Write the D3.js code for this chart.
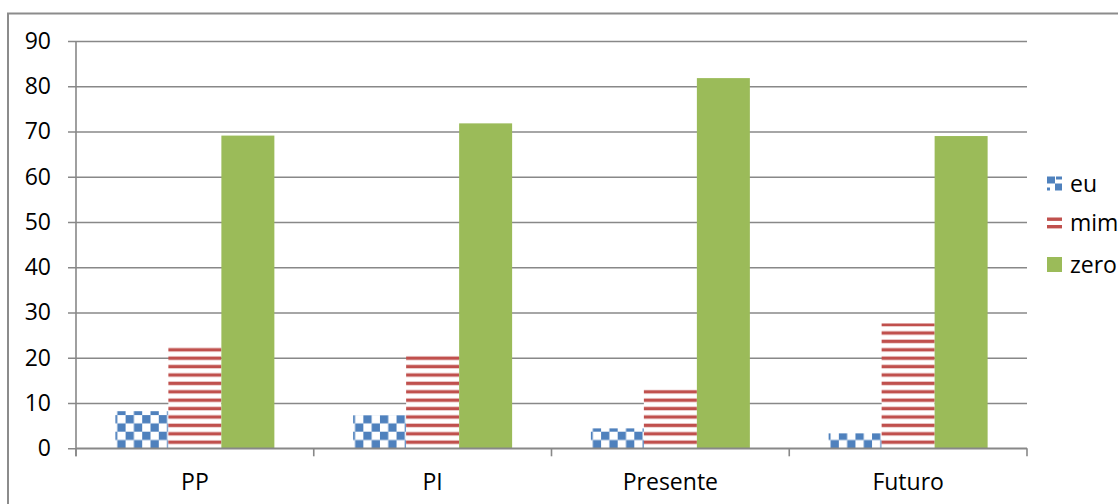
<!DOCTYPE html>
<html>
<head>
<meta charset="utf-8">
<script src="https://cdn.jsdelivr.net/npm/d3@7"></script>
<style>
  html, body { margin: 0; padding: 0; background: #fff; }
  svg { display: block; }
  text { font-family: "Open Sans", "Noto Sans", sans-serif; fill: #000; }
</style>
</head>
<body>
<svg id="chart" width="1118" height="504"></svg>
<script>
// Categories, series and values
const categories = ["PP", "PI", "Presente", "Futuro"];
const seriesNames = ["eu", "mim", "zero"];
const euValues   = [8.2, 7.3, 4.4, 3.3];
const mimValues  = [22.6, 20.9, 13.0, 27.6];
const zeroValues = [69.1, 71.8, 81.8, 69.0];
const yTicks = [0, 10, 20, 30, 40, 50, 60, 70, 80, 90];

const seriesValues = { eu: euValues, mim: mimValues, zero: zeroValues };

const svg = d3.select("#chart");

// Plot box
const plotLeft = 76, plotRight = 1027, plotTop = 41, plotBottom = 448.3;

// Fill patterns
const defs = svg.append("defs");

const checker = defs.append("pattern")
  .attr("id", "pat-eu")
  .attr("patternUnits", "userSpaceOnUse")
  .attr("width", 16.6).attr("height", 16.6)
  .attr("x", 116).attr("y", 448.3);
checker.append("rect").attr("width", 16.6).attr("height", 16.6).attr("fill", "#ffffff");
checker.append("rect").attr("x", 0).attr("y", 0).attr("width", 8.3).attr("height", 8.3).attr("fill", "#4f81bd");
checker.append("rect").attr("x", 8.3).attr("y", 8.3).attr("width", 8.3).attr("height", 8.3).attr("fill", "#4f81bd");

const stripes = defs.append("pattern")
  .attr("id", "pat-mim")
  .attr("patternUnits", "userSpaceOnUse")
  .attr("width", 8).attr("height", 8.4)
  .attr("x", 0).attr("y", 448.3);
stripes.append("rect").attr("width", 8).attr("height", 8.4).attr("fill", "#ffffff");
stripes.append("rect").attr("x", 0).attr("y", 0.6).attr("width", 8).attr("height", 3.4).attr("fill", "#c0504d");

const fills = { eu: "url(#pat-eu)", mim: "url(#pat-mim)", zero: "#9bbb59" };

// Scales
const x0 = d3.scaleBand().domain(categories).range([plotLeft, plotRight]).padding(0);
const x1 = d3.scaleBand().domain(seriesNames).range([0, x0.bandwidth()])
  .paddingInner(0).paddingOuter(0.743);
const y = d3.scaleLinear().domain([0, 90]).range([plotBottom, plotTop]);

// Outer frame
svg.append("rect")
  .attr("x", 8).attr("y", 13.5)
  .attr("width", 1300).attr("height", 700)
  .attr("fill", "none").attr("stroke", "#8c8c8c").attr("stroke-width", 2);

// Horizontal gridlines with left ticks
const yAxis = d3.axisLeft(y).tickValues(yTicks).tickSize(-(plotRight - plotLeft)).tickSizeOuter(0);
const gy = svg.append("g").attr("transform", `translate(${plotLeft},0)`).call(yAxis);
gy.select(".domain").remove();
gy.selectAll(".tick line")
  .attr("x1", -8)
  .attr("stroke", "#888888").attr("stroke-width", 1.6);
gy.selectAll(".tick text")
  .attr("x", -25)
  .style("font-size", "23px")
  .style("font-family", "'Open Sans', 'Noto Sans', sans-serif")
  .attr("fill", "#000");

// Bars
const groups = svg.append("g").selectAll("g")
  .data(categories)
  .join("g")
  .attr("transform", d => `translate(${x0(d)},0)`);

groups.selectAll("rect")
  .data((c, i) => seriesNames.map(s => ({ s, v: seriesValues[s][i] })))
  .join("rect")
  .attr("x", d => x1(d.s))
  .attr("y", d => y(d.v))
  .attr("width", x1.bandwidth())
  .attr("height", d => y(0) - y(d.v))
  .attr("fill", d => fills[d.s]);

// Vertical axis line
svg.append("line")
  .attr("x1", plotLeft).attr("x2", plotLeft)
  .attr("y1", plotTop).attr("y2", plotBottom + 8)
  .attr("stroke", "#888888").attr("stroke-width", 1.6);

// Category axis
const xAxis = d3.axisBottom(x0).tickSize(0).tickPadding(0);
const gx = svg.append("g").attr("transform", `translate(0,${plotBottom})`).call(xAxis);
gx.select(".domain").remove();
gx.selectAll(".tick text")
  .attr("y", 34)
  .attr("dy", "0.32em")
  .style("font-size", "23px")
  .style("font-family", "'Open Sans', 'Noto Sans', sans-serif")
  .attr("fill", "#000");

svg.append("line")
  .attr("x1", plotLeft).attr("x2", plotRight)
  .attr("y1", plotBottom).attr("y2", plotBottom)
  .attr("stroke", "#888888").attr("stroke-width", 1.6);

// Category separator ticks
const boundaries = categories.map(c => x0(c)).concat([plotRight]);
svg.append("g").selectAll("line")
  .data(boundaries)
  .join("line")
  .attr("x1", d => d).attr("x2", d => d)
  .attr("y1", plotBottom).attr("y2", plotBottom + 8)
  .attr("stroke", "#888888").attr("stroke-width", 1.6);

// Legend
const legend = svg.append("g").attr("transform", "translate(1047,0)");
const legendY = [183.5, 223, 264.5];
const legendItems = legend.selectAll("g")
  .data(seriesNames)
  .join("g")
  .attr("transform", (d, i) => `translate(0,${legendY[i]})`);

// eu marker: small checker
const euItem = legendItems.filter(d => d === "eu");
euItem.append("rect").attr("x", 0).attr("y", -7).attr("width", 15).attr("height", 14).attr("fill", "#fff");
euItem.append("rect").attr("x", 0).attr("y", -7).attr("width", 8).attr("height", 7).attr("fill", "#4f81bd");
euItem.append("rect").attr("x", 8).attr("y", 0).attr("width", 7).attr("height", 7).attr("fill", "#4f81bd");
euItem.append("rect").attr("x", 9).attr("y", -7).attr("width", 6).attr("height", 3).attr("fill", "#4f81bd");
euItem.append("rect").attr("x", 0).attr("y", 4).attr("width", 3).attr("height", 3).attr("fill", "#4f81bd");

// mim marker: two stripes
const mimItem = legendItems.filter(d => d === "mim");
mimItem.append("rect").attr("x", 0).attr("y", -5.5).attr("width", 15).attr("height", 3.4).attr("fill", "#c0504d");
mimItem.append("rect").attr("x", 0).attr("y", 2).attr("width", 15).attr("height", 3.4).attr("fill", "#c0504d");

// zero marker: solid square
legendItems.filter(d => d === "zero")
  .append("rect").attr("x", 0).attr("y", -7.5).attr("width", 15).attr("height", 15).attr("fill", "#9bbb59");

legendItems.append("text")
  .attr("x", 23)
  .attr("dy", "0.36em")
  .style("font-size", "23px")
  .text(d => d);
</script>
</body>
</html>
